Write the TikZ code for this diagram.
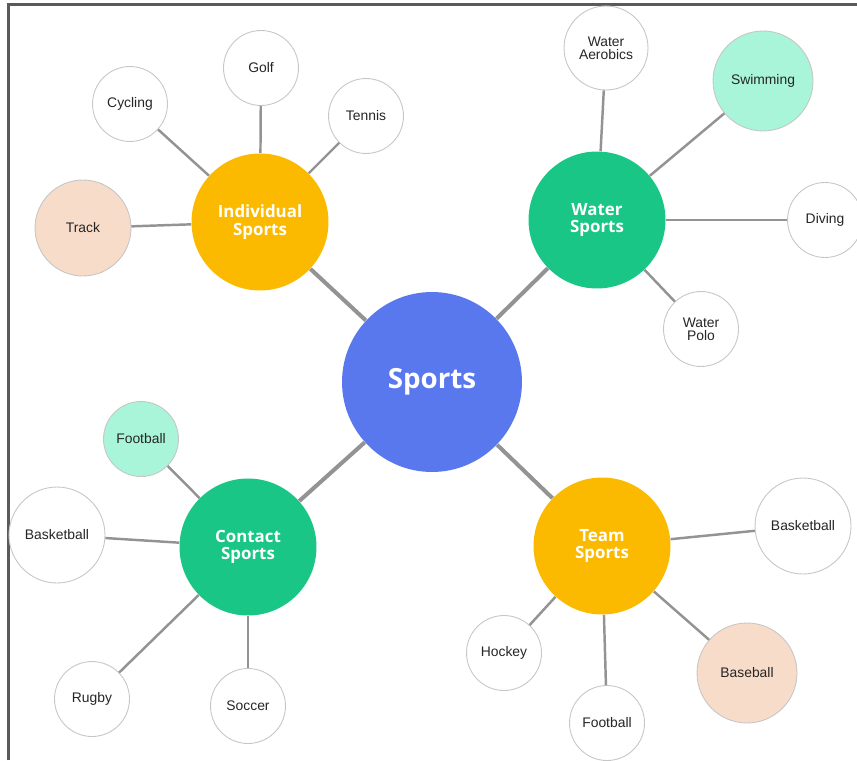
\documentclass[tikz,border=0pt]{standalone}
\usepackage{fontspec}
\setmainfont{Liberation Sans}
\newfontfamily\hubfont{Open Sans}

\definecolor{sportsblue}{HTML}{5A78EE}
\definecolor{sportsyellow}{HTML}{FBB900}
\definecolor{sportsgreen}{HTML}{1AC685}
\definecolor{sportsmint}{HTML}{A9F5DA}
\definecolor{sportspeach}{HTML}{F8DCCA}
\definecolor{linkgray}{HTML}{939393}
\definecolor{framegray}{HTML}{5A5A5A}

\begin{document}
\begin{tikzpicture}[x=0.02cm, y=-0.02cm,
    every node/.style={circle, draw=gray!45, line width=0.5pt, fill=white, inner sep=0pt, align=center,
        text=black!85, font=\fontsize{7.9}{7.2}\selectfont},
    hub/.style={draw=none, text=white, minimum size=2.74cm, font=\hubfont\bfseries\fontsize{9.6}{10}\selectfont},
    small/.style={minimum size=1.5cm},
    big/.style={minimum size=1.92cm},
    link/.style={draw=linkgray, line width=1.4pt},
    spoke/.style={draw=linkgray, line width=2.3pt}]
    \useasboundingbox (0,0) rectangle (857,760);
    \draw[framegray, line width=2.2pt] (8.5,760) -- (8.5,4.5) -- (857,4.5);

    % Centro
    \node (S) at (432,382) [draw=none, fill=sportsblue, text=white, minimum size=3.6cm,
        font=\hubfont\bfseries\fontsize{15.8}{16}\selectfont] {Sports};

    % Sport individuali
    \node (I) at (260,222) [hub, fill=sportsyellow] {Individual\\Sports};
    \node (I1) at (261,68) [small] {Golf};
    \node (I2) at (130,104) [small] {Cycling};
    \node (I3) at (366,116) [small] {Tennis};
    \node (I4) at (83,228) [big, fill=sportspeach] {Track};

    % Sport acquatici
    \node (W) at (597,220) [hub, fill=sportsgreen] {Water\\Sports};
    \node (W1) at (606,48) [minimum size=1.68cm] {Water\\Aerobics};
    \node (W2) at (763,81) [minimum size=2cm, fill=sportsmint] {Swimming};
    \node (W3) at (825,220) [small] {Diving};
    \node (W4) at (701,329) [small] {Water\\Polo};

    % Sport di contatto
    \node (C) at (248,547) [hub, fill=sportsgreen] {Contact\\Sports};
    \node (C1) at (141,439) [small, fill=sportsmint] {Football};
    \node (C2) at (57,535) [big] {Basketball};
    \node (C3) at (92,699) [small] {Rugby};
    \node (C4) at (248,706) [small] {Soccer};

    % Sport di squadra
    \node (T) at (602,546) [hub, fill=sportsyellow] {Team\\Sports};
    \node (T1) at (803,526) [big] {Basketball};
    \node (T2) at (504,653) [small] {Hockey};
    \node (T3) at (607,723) [small] {Football};
    \node (T4) at (747,673) [minimum size=2cm, fill=sportspeach] {Baseball};

    % Collegamenti
    \draw[spoke] (S) -- (I);
    \draw[spoke] (S) -- (W);
    \draw[spoke] (S) -- (C);
    \draw[spoke] (S) -- (T);
    \foreach \k in {1,...,4} {
        \draw[link] (I) -- (I\k);
        \draw[link] (W) -- (W\k);
        \draw[link] (C) -- (C\k);
        \draw[link] (T) -- (T\k);
    }
\end{tikzpicture}
\end{document}
